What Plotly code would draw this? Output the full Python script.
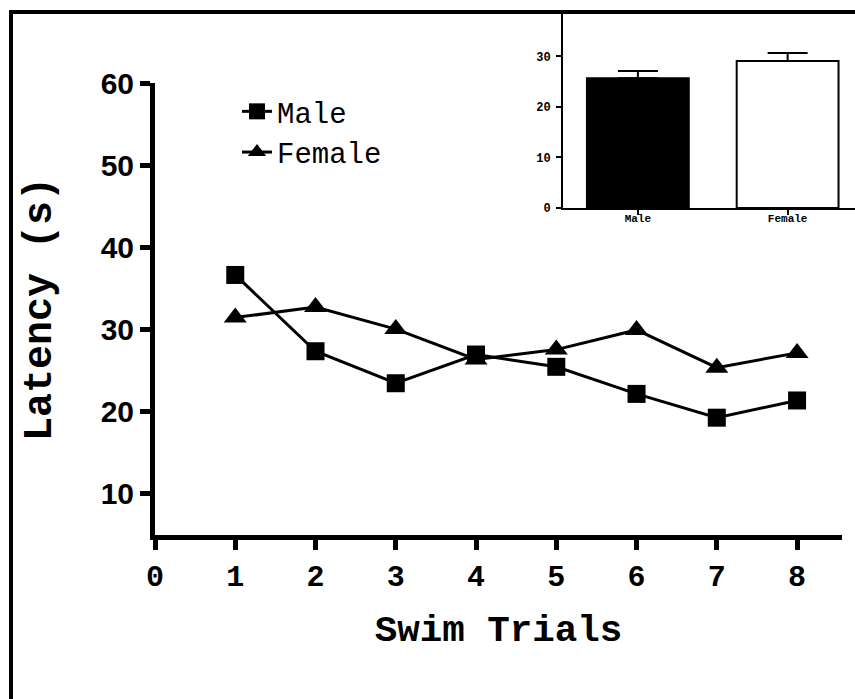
import plotly.graph_objects as go

# ---- data ----
trials = [1, 2, 3, 4, 5, 6, 7, 8]
male_latency = [36.6, 27.3, 23.4, 26.9, 25.4, 22.1, 19.2, 21.3]
female_latency = [31.4, 32.7, 30.0, 26.3, 27.5, 29.9, 25.3, 27.1]
x_tick_vals = [0, 1, 2, 3, 4, 5, 6, 7, 8]
y_tick_vals = [10, 20, 30, 40, 50, 60]

sex_groups = ["Male", "Female"]
mean_latency = [25.7, 29.1]
sem_latency = [1.4, 1.6]
inset_y_ticks = [0, 10, 20, 30]

W, H = 855, 699
MONO = "Liberation Mono, Courier New, monospace"
SANS = "Liberation Sans, Arial, sans-serif"

fig = go.Figure()

fig.add_trace(go.Scatter(
    x=trials, y=male_latency, name="Male", mode="lines+markers",
    line=dict(color="black", width=3),
    marker=dict(symbol="square", size=18, color="black"),
    xaxis="x", yaxis="y"))
fig.add_trace(go.Scatter(
    x=trials, y=female_latency, name="Female", mode="lines+markers",
    line=dict(color="black", width=3),
    marker=dict(symbol="triangle-up", size=20, color="black"),
    xaxis="x", yaxis="y"))

fig.add_trace(go.Bar(
    x=sex_groups, y=mean_latency, showlegend=False,
    marker=dict(color=["black", "white"], line=dict(color="black", width=2)),
    width=0.68,
    error_y=dict(type="data", symmetric=False, array=sem_latency,
                 arrayminus=[0, 0], color="black", thickness=2, width=20),
    xaxis="x2", yaxis="y2"))

def px_x(p):
    return p / W

def px_y(p):
    return 1 - p / H

fig.update_layout(
    width=W, height=H, autosize=False,
    margin=dict(l=0, r=0, t=0, b=0, pad=0),
    paper_bgcolor="white", plot_bgcolor="rgba(0,0,0,0)",
    showlegend=True,
    legend=dict(x=px_x(237), y=px_y(86), xanchor="left", yanchor="top",
                bgcolor="rgba(0,0,0,0)",
                font=dict(family=MONO, size=29, color="black")),
    xaxis=dict(domain=[px_x(155), px_x(842)], range=[0, 8.56], automargin=False,
               tickvals=x_tick_vals, ticks="outside", ticklen=10, tickwidth=5,
               tickcolor="black", showline=True, linewidth=5, linecolor="black",
               showgrid=False, zeroline=False, anchor="y",
               tickfont=dict(family=MONO, size=30, color="black", weight="bold"),
               title=dict(text="Swim Trials", standoff=22,
                          font=dict(family=MONO, size=37.5, color="black", weight="bold"))),
    yaxis=dict(domain=[px_y(535), px_y(83)], range=[4.9, 60], automargin=False,
               tickvals=y_tick_vals, ticks="outside", ticklen=10, tickwidth=5,
               tickcolor="black", showline=True, linewidth=5, linecolor="black",
               showgrid=False, zeroline=False, anchor="x",
               tickfont=dict(family=SANS, size=30, color="black", weight="bold"),
               title=dict(text="Latency (s)", standoff=38,
                          font=dict(family=MONO, size=40, color="black", weight="bold"))),
    xaxis2=dict(domain=[px_x(563), 1], range=[-0.5, 1.45], type="category",
                automargin=False,
                ticks="outside", ticklen=5, tickwidth=2, tickcolor="black",
                showline=True, linewidth=2, linecolor="black",
                showgrid=False, zeroline=False, anchor="y2",
                ticklabelstandoff=-6,
                tickfont=dict(family=MONO, size=11, color="black", weight="bold")),
    yaxis2=dict(domain=[px_y(208), px_y(13)], range=[0, 38.6], automargin=False,
                tickvals=inset_y_ticks, ticks="outside", ticklen=5, tickwidth=2,
                tickcolor="black", showline=True, linewidth=2, linecolor="black",
                showgrid=False, zeroline=False, anchor="x2",
                ticklabelstandoff=3,
                tickfont=dict(family=MONO, size=12, color="black", weight="bold")),
    shapes=[
        dict(type="line", xref="paper", yref="paper",
             x0=px_x(11), x1=px_x(11), y0=0, y1=px_y(10),
             line=dict(color="black", width=4)),
        dict(type="line", xref="paper", yref="paper",
             x0=px_x(9), x1=1, y0=px_y(12), y1=px_y(12),
             line=dict(color="black", width=4)),
    ],
)

fig.write_html("out.html",
               config={"displayModeBar": False},
               post_script="document.body.style.margin='0';document.body.style.padding='0';")
